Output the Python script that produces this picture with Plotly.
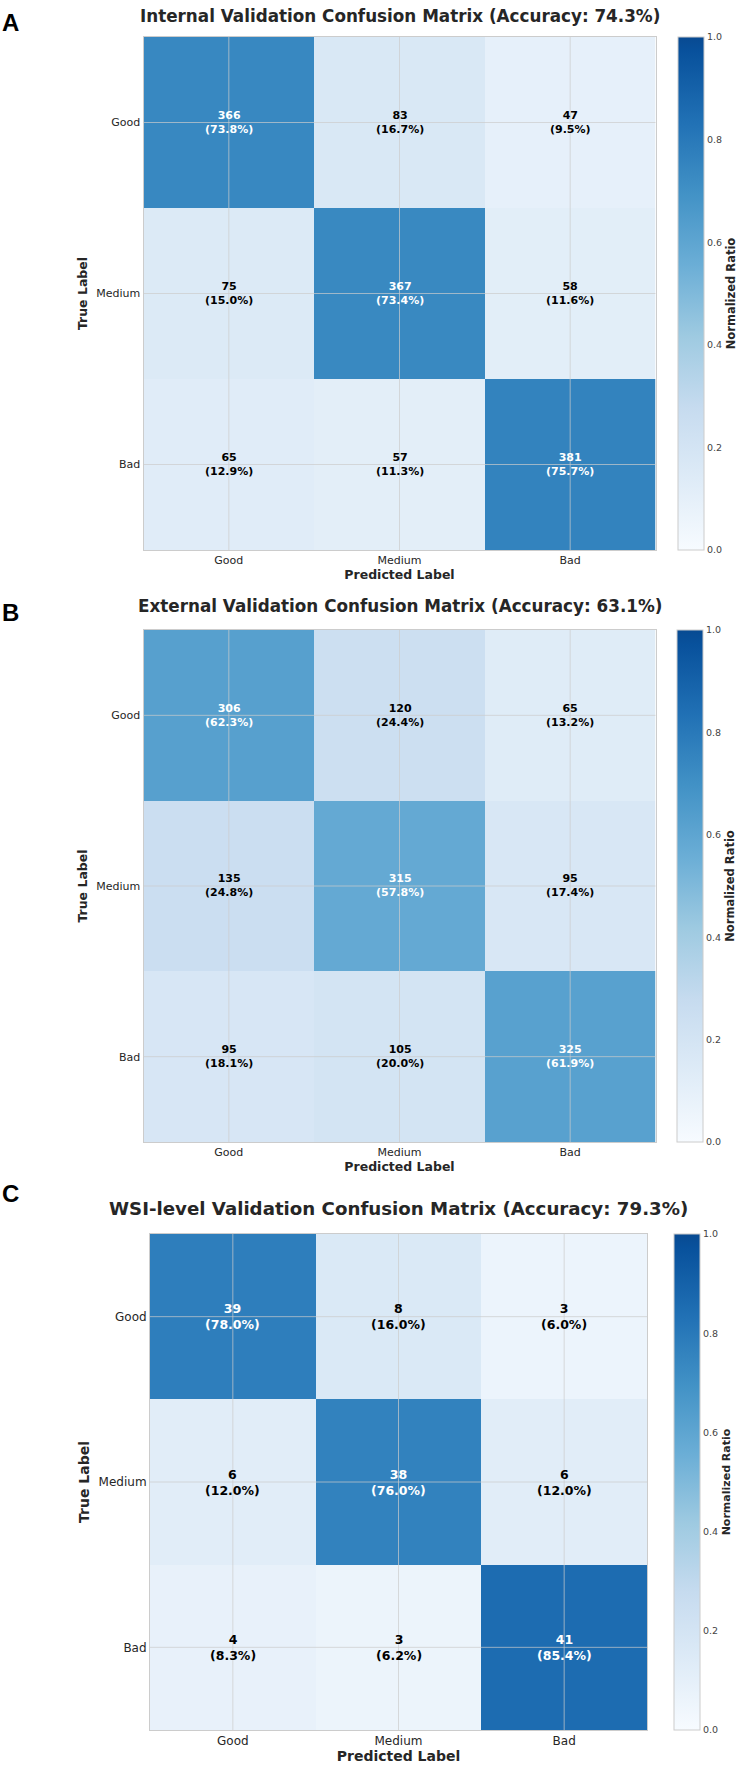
import plotly.graph_objects as go

# ---------------- data ----------------
labels = ["Good", "Medium", "Bad"]
counts_internal = [[366, 83, 47], [75, 367, 58], [65, 57, 381]]
counts_external = [[306, 120, 65], [135, 315, 95], [95, 105, 325]]
counts_wsi = [[39, 8, 3], [6, 38, 6], [4, 3, 41]]
titles = [
    "Internal Validation Confusion Matrix (Accuracy: 74.3%)",
    "External Validation Confusion Matrix (Accuracy: 63.1%)",
    "WSI-level Validation Confusion Matrix (Accuracy: 79.3%)",
]
panel_letters = ["A", "B", "C"]
colorbar_ticks = [0.0, 0.2, 0.4, 0.6, 0.8, 1.0]

# ---------------- style ----------------
W, H = 743, 1772
FONT = "DejaVu Sans"
DARK = "#262626"
GRID = "rgba(204,204,204,0.7)"
SPINE = "#cccccc"

# matplotlib "Blues", truncated to 0..0.9
_blues = [(247, 251, 255), (222, 235, 247), (198, 219, 239), (158, 202, 225),
          (107, 174, 214), (66, 146, 198), (33, 113, 181), (8, 81, 156), (8, 48, 107)]
K = 0.9
colorscale = []
for i in range(8):
    colorscale.append([i * 0.125 / K, "rgb(%d,%d,%d)" % _blues[i]])
f = (K - 0.875) / 0.125
end = tuple(round(_blues[7][c] + f * (_blues[8][c] - _blues[7][c])) for c in range(3))
colorscale.append([1.0, "rgb(%d,%d,%d)" % end])

panels = [
    dict(counts=counts_internal, x0=143.5, x1=655.5, y0=37, y1=550, cbx=678,
         title_y=16, letter_y=23, tick_fs=11, axis_fs=12.5, text_fs=11, title_fs=16.8, cb_fs=11.5),
    dict(counts=counts_external, x0=143.5, x1=655.5, y0=630, y1=1142, cbx=677,
         title_y=606, letter_y=612, tick_fs=11, axis_fs=12.5, text_fs=11, title_fs=16.8, cb_fs=11.5),
    dict(counts=counts_wsi, x0=150, x1=647, y0=1234, y1=1730, cbx=674,
         title_y=1208, letter_y=1193, tick_fs=12, axis_fs=14, text_fs=12.5, title_fs=18.2, cb_fs=11),
]

fig = go.Figure()
annotations = []
shapes = []
layout_axes = {}

for k, p in enumerate(panels):
    n = k + 1
    xs = "x" if n == 1 else f"x{n}"
    ys = "y" if n == 1 else f"y{n}"
    counts = p["counts"]
    norm = [[v / sum(row) for v in row] for row in counts]

    fig.add_trace(go.Heatmap(
        z=norm, x=labels, y=labels, xaxis=xs, yaxis=ys,
        zmin=0, zmax=1, colorscale=colorscale, hoverinfo="skip",
        colorbar=dict(
            x=p["cbx"] / W, xanchor="left", xpad=0,
            y=1 - p["y0"] / H, yanchor="top", ypad=0,
            len=p["y1"] - p["y0"], lenmode="pixels",
            thickness=26, thicknessmode="pixels",
            outlinewidth=1, outlinecolor=SPINE,
            tickvals=colorbar_ticks, ticktext=["%.1f" % t for t in colorbar_ticks],
            ticks="", tickfont=dict(family=FONT, size=9.5, color="#444444"),
            title=dict(text="Normalized Ratio", side="right",
                       font=dict(family=FONT, size=p["cb_fs"], color=DARK, weight="bold")),
        ),
    ))

    # cell annotations
    for i in range(3):
        for j in range(3):
            pct = norm[i][j] * 100
            annotations.append(dict(
                x=labels[j], y=labels[i], xref=xs, yref=ys, showarrow=False,
                text=f"{counts[i][j]}<br>({pct:.1f}%)",
                font=dict(family=FONT, size=p["text_fs"], weight="bold",
                          color="white" if norm[i][j] > 0.5 else "black"),
            ))

    # gridlines over heatmap at category centers
    for idx in range(len(labels)):
        shapes.append(dict(type="line", xref=xs, yref=f"{ys} domain", x0=idx, x1=idx, y0=0, y1=1,
                           line=dict(color=GRID, width=1), layer="above"))
        shapes.append(dict(type="line", yref=ys, xref=f"{xs} domain", y0=idx, y1=idx, x0=0, x1=1,
                           line=dict(color=GRID, width=1), layer="above"))

    # titles
    annotations.append(dict(
        x=(p["x0"] + p["x1"]) / 2 / W, y=1 - p["title_y"] / H, xref="paper", yref="paper",
        xanchor="center", yanchor="middle", showarrow=False, text=titles[k],
        font=dict(family=FONT, size=p["title_fs"], color=DARK, weight="bold"),
    ))
    annotations.append(dict(
        x=0, y=1 - p["letter_y"] / H, xref="paper", yref="paper",
        xanchor="left", yanchor="middle", showarrow=False, text=panel_letters[k],
        font=dict(family="Liberation Sans", size=24, color="black", weight="bold"),
    ))

    xa = "xaxis" if n == 1 else f"xaxis{n}"
    ya = "yaxis" if n == 1 else f"yaxis{n}"
    layout_axes[xa] = dict(
        domain=[p["x0"] / W, p["x1"] / W], anchor=ys, showgrid=False, zeroline=False,
        showline=True, linecolor=SPINE, linewidth=1, mirror=True, ticks="",
        tickfont=dict(family=FONT, size=p["tick_fs"], color=DARK), layer="above traces",
        title=dict(text="Predicted Label", standoff=3,
                   font=dict(family=FONT, size=p["axis_fs"], color=DARK, weight="bold")),
    )
    layout_axes[ya] = dict(
        domain=[1 - p["y1"] / H, 1 - p["y0"] / H], anchor=xs, showgrid=False, zeroline=False,
        showline=True, linecolor=SPINE, linewidth=1, mirror=True, ticks="",
        autorange="reversed",
        tickfont=dict(family=FONT, size=p["tick_fs"], color=DARK), layer="above traces",
        title=dict(text="True Label", standoff=5,
                   font=dict(family=FONT, size=p["axis_fs"], color=DARK, weight="bold")),
    )

fig.update_layout(
    width=W, height=H, margin=dict(l=0, r=0, t=0, b=0),
    paper_bgcolor="white", plot_bgcolor="white",
    annotations=annotations, shapes=shapes, showlegend=False,
    font=dict(family=FONT, color=DARK),
    **layout_axes,
)

fig.write_html("out.html")
